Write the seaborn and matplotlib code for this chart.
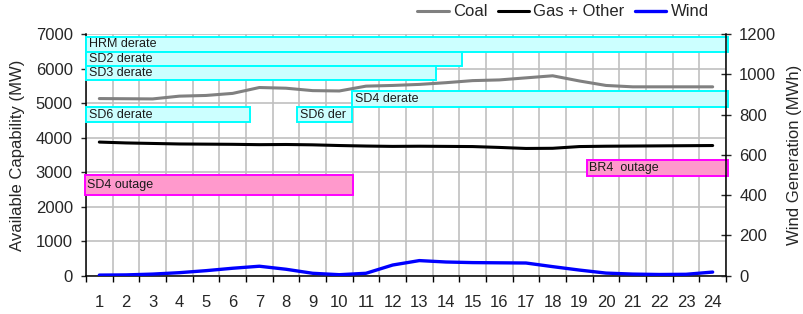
import matplotlib.pyplot as plt
import numpy as np
import pandas as pd
import seaborn as sns

# hourly series
hours = list(range(1, 25))
coal = [5130, 5125, 5120, 5200, 5220, 5280, 5450, 5430, 5360, 5350, 5490, 5510,
        5540, 5590, 5650, 5670, 5730, 5790, 5640, 5510, 5470, 5470, 5470, 5470]
gas_other = [3870, 3845, 3830, 3815, 3810, 3805, 3795, 3800, 3790, 3770, 3755, 3745,
             3750, 3745, 3740, 3715, 3685, 3690, 3740, 3750, 3755, 3760, 3765, 3770]
wind = [3, 4, 8, 15, 25, 37, 47, 32, 12, 5, 12, 53,
        75, 68, 65, 64, 63, 45, 28, 13, 8, 6, 7, 18]

# outage / derate boxes (x in hour units, y in MW)
box_labels = ["HRM derate", "SD2 derate", "SD3 derate", "SD6 derate", "SD6 der",
              "SD4 derate", "SD4 outage", "BR4  outage"]
box_start = [0.5, 0.5, 0.5, 0.5, 8.41, 10.49, 0.45, 19.27]
box_end = [24.56, 14.61, 13.61, 6.64, 10.49, 24.56, 10.52, 24.56]
box_bottom = [6487, 6081, 5668, 4460, 4460, 4877, 2337, 2887]
box_top = [6922, 6487, 6081, 4877, 4877, 5358, 2925, 3351]
box_kind = ["derate"] * 6 + ["outage"] * 2

left_ticks = list(range(0, 7001, 1000))
right_ticks = list(range(0, 1201, 200))

sns.set_style("ticks")
plt.rcParams["font.family"] = ["Liberation Sans", "DejaVu Sans"]

fig = plt.figure(figsize=(8.04, 3.14), dpi=100)
ax = fig.add_axes([86 / 804, 1 - 275.7 / 314, 640 / 804, 241.7 / 314])
ax2 = ax.twinx()

df = pd.DataFrame({"hour": hours, "coal": coal, "gas": gas_other, "wind": wind})
sns.lineplot(data=df, x="hour", y="coal", ax=ax, color="#808080", lw=2.2, label="Coal")
sns.lineplot(data=df, x="hour", y="gas", ax=ax, color="black", lw=2.2, label="Gas + Other")
sns.lineplot(data=df, x="hour", y="wind", ax=ax2, color="#0000ff", lw=2.4, label="Wind")

styles = {"derate": ("#ccffff", "#00ffff"), "outage": ("#ff99cc", "#ff00ff")}
for lab, s, e, b, t, k in zip(box_labels, box_start, box_end, box_bottom, box_top, box_kind):
    face, edge = styles[k]
    ax.barh((b + t) / 2, e - s, left=s, height=t - b, color=face, edgecolor=edge,
            linewidth=1.4, clip_on=False, zorder=5)
    ax.text(s + 0.1, (b + t) / 2, lab, fontsize=9, color="#1a1a1a", va="center",
            ha="left", zorder=6)

ax.set_xlim(0.5, 24.5)
ax.set_ylim(0, 7000)
ax2.set_ylim(0, 1200)

ax.set_xticks(np.arange(0.5, 25, 1))
ax.set_xticklabels([])
ax.set_xticks(hours, minor=True)
ax.set_xticklabels([str(h) for h in hours], minor=True)
ax.tick_params(axis="x", which="major", direction="out", length=4, width=1, color="black")
ax.tick_params(axis="x", which="minor", length=0, pad=14, labelsize=12)
ax.set_yticks(left_ticks)
ax.tick_params(axis="y", direction="out", length=3.5, width=1, pad=6, labelsize=12)
ax2.set_yticks(right_ticks)
ax2.tick_params(axis="y", direction="inout", length=7, width=1, pad=6, labelsize=12)

ax.grid(True, which="major", color="#c0c0c0", lw=1.2)
ax.set_axisbelow(True)
ax2.grid(False)

for side in ["top", "right"]:
    ax.spines[side].set_visible(False)
for side in ["top", "left", "bottom"]:
    ax2.spines[side].set_visible(False)
for sp in [ax.spines["left"], ax.spines["bottom"], ax2.spines["right"]]:
    sp.set_color("black")
    sp.set_linewidth(1.1)

ax.set_xlabel("")
ax.set_ylabel("Available Capability (MW)", fontsize=12, labelpad=8)
ax2.set_xlabel("")
ax2.set_ylabel("Wind Generation (MWh)", fontsize=12, labelpad=8)

h1, l1 = ax.get_legend_handles_labels()
h2, l2 = ax2.get_legend_handles_labels()
ax.get_legend().remove()
ax2.get_legend().remove()
fig.legend(h1 + h2, l1 + l2, loc="center", bbox_to_anchor=(563 / 804, 1 - 12 / 314),
           ncol=3, frameon=False, fontsize=12, handlelength=1.9, handletextpad=0.25,
           columnspacing=0.6)

# title cut off at the top of the image, only the descenders show
fig.text(75 / 804, 1 + 8 / 314, "Capacity", color="#3333cc", fontsize=17,
         fontweight="bold", va="baseline", ha="left")

fig.savefig("out.png", dpi=100)
